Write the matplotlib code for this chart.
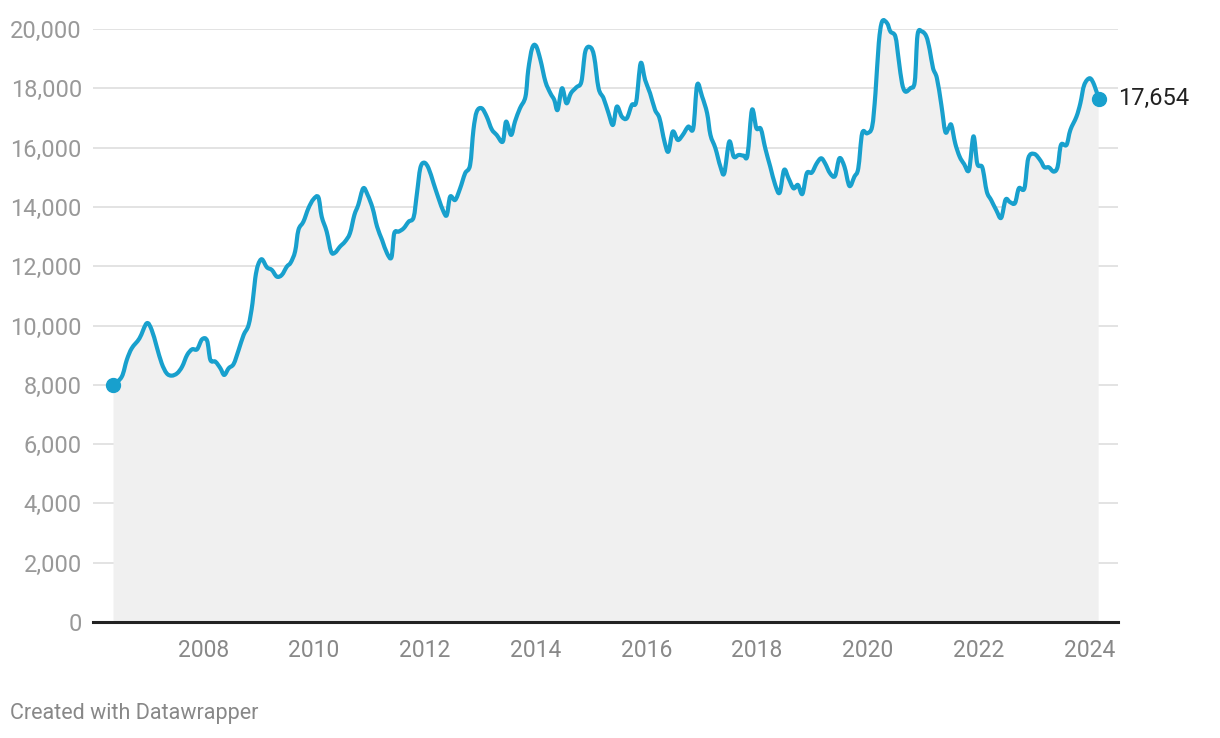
import matplotlib
matplotlib.use("Agg")
import matplotlib.pyplot as plt
import numpy as np
from matplotlib.ticker import FuncFormatter
from matplotlib.path import Path
from matplotlib.patches import PathPatch

years = [
    2006.38, 2006.53, 2006.62, 2006.71, 2006.85, 2006.98, 2007.07, 2007.16, 2007.25, 2007.34,
    2007.43, 2007.53, 2007.62, 2007.71, 2007.80, 2007.89, 2007.98, 2008.07, 2008.13, 2008.22,
    2008.31, 2008.38, 2008.46, 2008.55, 2008.64, 2008.73, 2008.82, 2008.89, 2008.94, 2008.99,
    2009.06, 2009.15, 2009.24, 2009.33, 2009.42, 2009.51, 2009.58, 2009.66, 2009.72, 2009.81,
    2009.90, 2009.99, 2010.08, 2010.14, 2010.23, 2010.31, 2010.38, 2010.47, 2010.56, 2010.65,
    2010.73, 2010.80, 2010.89, 2010.97, 2011.06, 2011.14, 2011.23, 2011.32, 2011.40, 2011.45,
    2011.53, 2011.62, 2011.71, 2011.80, 2011.86, 2011.92, 2011.99, 2012.07, 2012.16, 2012.25,
    2012.34, 2012.40, 2012.46, 2012.55, 2012.64, 2012.73, 2012.82, 2012.88, 2012.94, 2013.03,
    2013.12, 2013.21, 2013.30, 2013.41, 2013.47, 2013.56, 2013.63, 2013.72, 2013.82, 2013.87,
    2013.94, 2014.01, 2014.09, 2014.18, 2014.27, 2014.34, 2014.40, 2014.48, 2014.56, 2014.64,
    2014.74, 2014.83, 2014.90, 2014.99, 2015.06, 2015.14, 2015.23, 2015.32, 2015.40, 2015.47,
    2015.56, 2015.65, 2015.74, 2015.82, 2015.90, 2015.98, 2016.07, 2016.16, 2016.24, 2016.33,
    2016.40, 2016.48, 2016.57, 2016.66, 2016.76, 2016.85, 2016.92, 2017.01, 2017.10, 2017.16,
    2017.25, 2017.34, 2017.41, 2017.50, 2017.58, 2017.67, 2017.76, 2017.83, 2017.91, 2017.99,
    2018.07, 2018.15, 2018.24, 2018.33, 2018.41, 2018.49, 2018.57, 2018.66, 2018.74, 2018.82,
    2018.90, 2018.99, 2019.08, 2019.16, 2019.23, 2019.32, 2019.41, 2019.49, 2019.58, 2019.67,
    2019.76, 2019.83, 2019.90, 2019.99, 2020.08, 2020.14, 2020.20, 2020.26, 2020.35, 2020.41,
    2020.50, 2020.56, 2020.62, 2020.68, 2020.77, 2020.85, 2020.90, 2020.98, 2021.06, 2021.12,
    2021.18, 2021.25, 2021.33, 2021.40, 2021.46, 2021.51, 2021.58, 2021.66, 2021.74, 2021.83,
    2021.91, 2021.98, 2022.07, 2022.15, 2022.23, 2022.32, 2022.41, 2022.49, 2022.57, 2022.66,
    2022.73, 2022.83, 2022.90, 2023.01, 2023.12, 2023.19, 2023.27, 2023.36, 2023.43, 2023.49,
    2023.59, 2023.66, 2023.77, 2023.84, 2023.91, 2024.01, 2024.09, 2024.17,
]

values = [
    7990, 8275, 8838, 9232, 9569, 10075, 9850, 9288, 8726, 8389,
    8309, 8389, 8614, 9006, 9198, 9198, 9535, 9490, 8838, 8782,
    8558, 8332, 8558, 8703, 9175, 9681, 10018, 10750, 11593, 12041,
    12234, 11964, 11873, 11648, 11705, 11986, 12121, 12500, 13222, 13503,
    13953, 14256, 14324, 13672, 13166, 12491, 12457, 12660, 12828, 13110,
    13728, 14065, 14627, 14402, 13953, 13335, 12885, 12435, 12300, 13110,
    13166, 13278, 13503, 13650, 14458, 15303, 15493, 15303, 14797, 14290,
    13840, 13728, 14346, 14234, 14627, 15134, 15415, 16596, 17213, 17326,
    17045, 16618, 16427, 16202, 16876, 16427, 16876, 17326, 17720, 18620,
    19352, 19430, 18958, 18226, 17833, 17607, 17270, 18002, 17495, 17833,
    18035, 18226, 19239, 19385, 19070, 18002, 17664, 17158, 16764, 17383,
    17045, 16989, 17438, 17551, 18845, 18283, 17833, 17270, 16989, 16202,
    15865, 16540, 16258, 16427, 16708, 16652, 18114, 17720, 17158, 16427,
    15977, 15358, 15134, 16202, 15696, 15752, 15729, 15752, 17270, 16652,
    16629, 15977, 15358, 14740, 14481, 15246, 14966, 14627, 14740, 14436,
    15134, 15156, 15471, 15640, 15471, 15134, 15044, 15640, 15358, 14706,
    15021, 15302, 16483, 16483, 16708, 17833, 19520, 20253, 20196, 19914,
    19745, 18958, 18170, 17889, 18002, 18226, 19801, 19914, 19745, 19295,
    18677, 18339, 17438, 16540, 16652, 16764, 16146, 15696, 15448, 15246,
    16380, 15450, 15330, 14520, 14230, 13896, 13630, 14245, 14160, 14130,
    14627, 14627, 15640, 15786, 15561, 15336, 15336, 15190, 15358, 16090,
    16090, 16596, 17045, 17495, 18114, 18339, 18114, 17654,
]

y_ticks = [0, 2000, 4000, 6000, 8000, 10000, 12000, 14000, 16000, 18000, 20000]
x_ticks = [2008, 2010, 2012, 2014, 2016, 2018, 2020, 2022, 2024]
end_label = "17,654"
credit = "Created with Datawrapper"

plt.rcParams['font.family'] = ['Roboto', 'DejaVu Sans']

LINE = '#18a0cd'
fig = plt.figure(figsize=(12.2, 7.38), dpi=100)
ax = fig.add_axes([93 / 1220, 116 / 738, 1025 / 1220, 593 / 738])


def smooth_path(xs, ys):
    """Catmull-Rom style cubic Bezier path through the data points."""
    x = np.asarray(xs, float)
    y = np.asarray(ys, float)
    n = len(x)
    verts = [(x[0], y[0])]
    codes = [Path.MOVETO]
    t = 1.0 / 6.0
    for i in range(n - 1):
        x0, y0 = (x[i - 1], y[i - 1]) if i > 0 else (x[i], y[i])
        x3, y3 = (x[i + 2], y[i + 2]) if i + 2 < n else (x[i + 1], y[i + 1])
        c1 = (x[i] + (x[i + 1] - x0) * t, y[i] + (y[i + 1] - y0) * t)
        c2 = (x[i + 1] - (x3 - x[i]) * t, y[i + 1] - (y3 - y[i]) * t)
        verts += [c1, c2, (x[i + 1], y[i + 1])]
        codes += [Path.CURVE4] * 3
    return verts, codes


verts, codes = smooth_path(years, values)
fill_verts = verts + [(years[-1], 0), (years[0], 0), (years[0], values[0])]
fill_codes = codes + [Path.LINETO, Path.LINETO, Path.CLOSEPOLY]
ax.add_patch(PathPatch(Path(fill_verts, fill_codes), facecolor='#f0f0f0',
                       edgecolor='none', zorder=1))
ax.add_patch(PathPatch(Path(verts, codes), facecolor='none', edgecolor=LINE,
                       linewidth=3.0, joinstyle='round', capstyle='round',
                       zorder=3, clip_on=False))
ax.plot([years[0], years[-1]], [values[0], values[-1]], 'o', color=LINE,
        markersize=10, zorder=4, clip_on=False)
ax.annotate(end_label, (years[-1], values[-1]), xytext=(14, 0),
            textcoords='offset points', va='center', ha='left',
            fontsize=17, color='#222222')

ax.set_xlim(2006.01, 2024.52)
ax.set_ylim(0, 20000)
ax.set_yticks(y_ticks)
ax.set_xticks(x_ticks)
ax.yaxis.set_major_formatter(FuncFormatter(lambda v, p: f"{int(v):,}"))
ax.grid(axis='y', color='#e0e0e0', linewidth=1.3, zorder=0)
ax.set_axisbelow(True)
for s in ['top', 'right', 'left']:
    ax.spines[s].set_visible(False)
ax.spines['bottom'].set_color('#222222')
ax.spines['bottom'].set_linewidth(2.2)
ax.spines['bottom'].set_zorder(5)
ax.tick_params(axis='y', length=0, pad=8, labelsize=17, labelcolor='#999999')
ax.tick_params(axis='x', length=0, pad=12, labelsize=16.5, labelcolor='#888888')

fig.text(10 / 1220, 1 - 714 / 738, credit, fontsize=15.5, color='#888888',
         ha='left', va='center')

fig.savefig('out.png', dpi=100)
